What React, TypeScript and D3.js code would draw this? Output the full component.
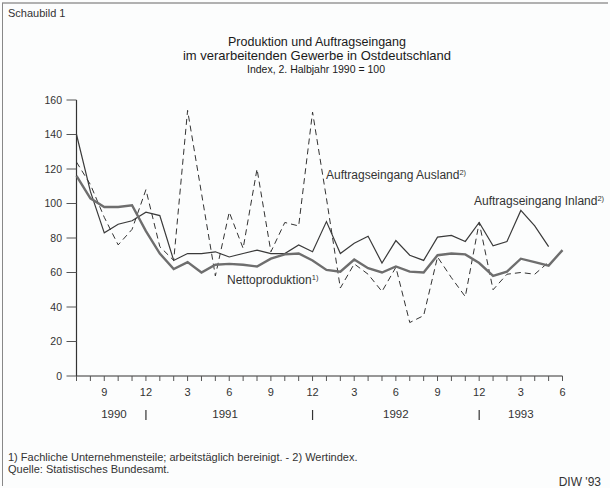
import React from 'react'
import * as d3 from 'd3'

// monthly values, July 1990 .. June 1993 (index 2nd half 1990 = 100)
const monthLabels = ['9', '12', '3', '6', '9', '12', '3', '6', '9', '12', '3', '6']
const monthLabelPos = [2, 5, 8, 11, 14, 17, 20, 23, 26, 29, 32, 35]
const years = ['1990', '1991', '1992', '1993']
const yearPos = [2.7, 10.7, 23, 32]
const yearBreaks = [5, 17, 29]
const yTicks = [0, 20, 40, 60, 80, 100, 120, 140, 160]

const nettoproduktion = [116, 103, 98, 98, 99, 84, 71, 62, 66, 60, 64.5, 65, 64.5, 63.5, 68, 70.5, 71, 67,
    61.5, 60.5, 67.5, 62.5, 60, 63.5, 60.5, 60, 70, 71, 70.5, 65.5, 58, 60.5, 68, 66, 64, 73]
const inland = [140, 107, 83, 88, 90, 95, 93, 67, 71, 71, 72, 69, 71, 73, 71, 71, 76, 72,
    89.5, 71, 77, 81, 65.5, 78.5, 70, 67, 80.5, 81.5, 78, 89, 75.5, 78, 96, 87, 75]
const ausland = [124, 111, 92, 76, 85, 108, 75, 67, 154, 106, 58, 95, 74, 120, 72, 89, 87, 153,
    103, 51, 65, 59, 49, 63, 31, 35, 69, 57, 46, 89, 50, 59, 60, 59, 66]

const font = '"Liberation Sans", Arial, sans-serif'
const ink = '#333'

const width = 610
const height = 488

const SeriesLine = (props: { data: number[], x: any, y: any, stroke: string, strokeWidth: number, dash?: string }) => {
    const line = d3.line<number>().x((_, i) => props.x(i)).y((d) => props.y(d))
    return (
        <path
            d={line(props.data) || ''}
            fill='none'
            stroke={props.stroke}
            strokeWidth={props.strokeWidth}
            strokeDasharray={props.dash}
            strokeLinejoin='miter'
        />
    )
}

const Label = (props: { x: number, y: number, text: string, sup: string }) => (
    <text x={props.x} y={props.y} fontSize={12} fill={ink}>
        {props.text}
        <tspan fontSize={7.5} dy={-4.5}>{props.sup}</tspan>
    </text>
)

export default function App () {
    const x = d3.scaleLinear().domain([0, 35]).range([76.5, 562.5])
    const y = d3.scaleLinear().domain([0, 160]).range([376, 100])
    const months = d3.range(nettoproduktion.length)

    return (
        <svg
            width={width}
            height={height}
            style={{ position: 'absolute', left: 0, top: 0, background: '#fcfdfd', fontFamily: font }}
        >
            {/* frame */}
            <line x1={2} x2={608} y1={3} y2={3} stroke='#666' strokeWidth={1.2} />
            <line x1={2.5} x2={2.5} y1={3} y2={486} stroke='#888' strokeWidth={1} />

            <text x={8} y={17} fontSize={11} fill={ink}>Schaubild 1</text>

            <g textAnchor='middle' fill='#1a1a1a'>
                <text x={317} y={46} fontSize={12.5}>Produktion und Auftragseingang</text>
                <text x={317} y={60} fontSize={13}>im verarbeitenden Gewerbe in Ostdeutschland</text>
                <text x={316} y={73} fontSize={10.5}>Index, 2. Halbjahr 1990 = 100</text>
            </g>

            {/* y axis */}
            <g>
                <line x1={x(0)} x2={x(0)} y1={y(160)} y2={y(0)} stroke={ink} strokeWidth={1.2} />
                {yTicks.map((t) => (
                    <g key={t}>
                        <line x1={x(0) - 10} x2={x(0)} y1={y(t)} y2={y(t)} stroke='#555' strokeWidth={1} />
                        <text x={62} y={y(t)} dy='0.35em' textAnchor='end' fontSize={10.5} fill={ink}>{t}</text>
                    </g>
                ))}
            </g>

            {/* x axis */}
            <g>
                <line x1={x(0)} x2={x(35)} y1={y(0)} y2={y(0)} stroke={ink} strokeWidth={1.2} />
                {months.map((m) => (
                    <line key={m} x1={x(m)} x2={x(m)} y1={y(0)} y2={y(0) + 5} stroke='#555' strokeWidth={1} />
                ))}
                {monthLabels.map((l, i) => (
                    <text key={i} x={x(monthLabelPos[i])} y={396} textAnchor='middle' fontSize={11} fill={ink}>{l}</text>
                ))}
                {years.map((l, i) => (
                    <text key={l} x={x(yearPos[i])} y={418} textAnchor='middle' fontSize={11.5} fill={ink}>{l}</text>
                ))}
                {yearBreaks.map((m) => (
                    <line key={m} x1={x(m)} x2={x(m)} y1={410} y2={420} stroke={ink} strokeWidth={1.2} />
                ))}
            </g>

            {/* series */}
            <SeriesLine data={ausland} x={x} y={y} stroke='#333' strokeWidth={1} dash='6,4' />
            <SeriesLine data={inland} x={x} y={y} stroke='#3a3a3a' strokeWidth={1.2} />
            <SeriesLine data={nettoproduktion} x={x} y={y} stroke='#6e6e6e' strokeWidth={2.4} />

            <Label x={326} y={179} text='Auftragseingang Ausland' sup='2)' />
            <Label x={474} y={205} text='Auftragseingang Inland' sup='2)' />
            <Label x={227} y={284} text='Nettoproduktion' sup='1)' />

            {/* footnotes */}
            <g fontSize={11} fill={ink}>
                <text x={8} y={461}>1) Fachliche Unternehmensteile; arbeitstäglich bereinigt. - 2) Wertindex.</text>
                <text x={8} y={473}>Quelle: Statistisches Bundesamt.</text>
            </g>
            <text x={601} y={486} textAnchor='end' fontSize={12} fill={ink}>DIW '93</text>
        </svg>
    )
}
